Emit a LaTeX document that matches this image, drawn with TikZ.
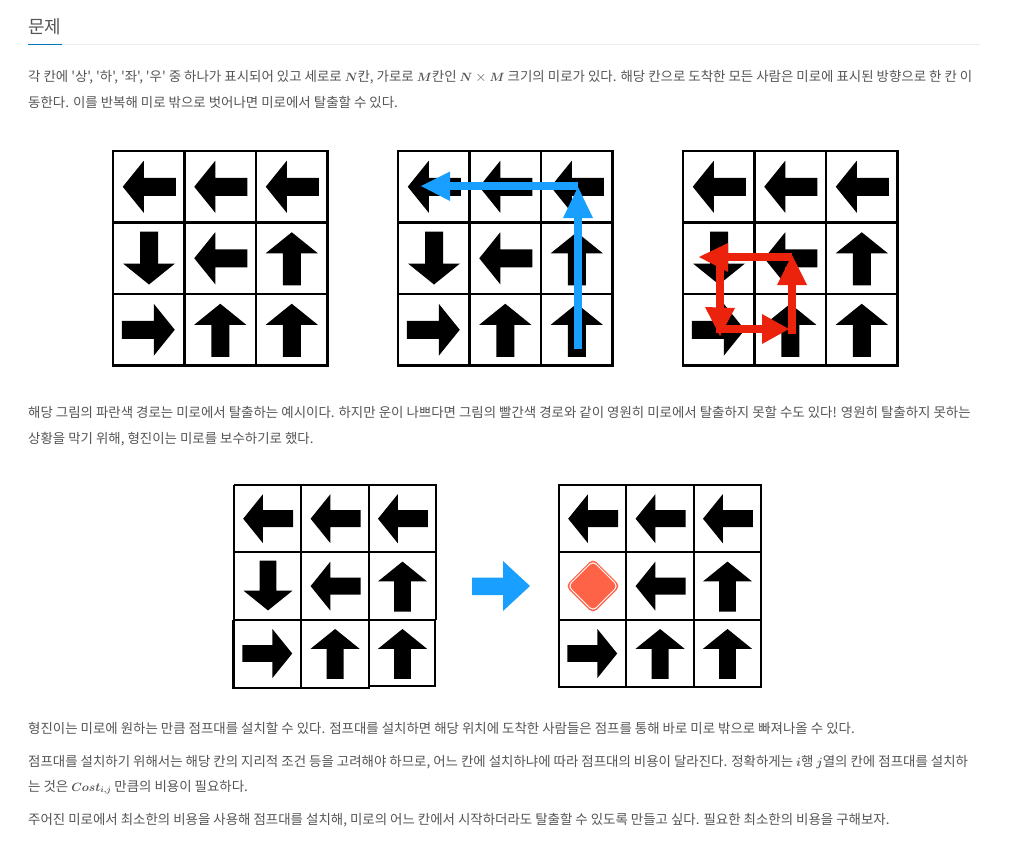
\documentclass[tikz,border=0pt]{standalone}
\usepackage{fontspec}
\newfontfamily\kr{Noto Sans CJK KR}
\definecolor{bodytext}{HTML}{555555}
\definecolor{pathblue}{HTML}{189FFF}
\definecolor{pathred}{HTML}{EC230C}
\definecolor{jumpred}{HTML}{FF6347}
\definecolor{ruleblue}{HTML}{0076C0}
\definecolor{rulegray}{HTML}{EEEEEE}
\newcommand{\mvar}[1]{{\fontsize{12}{14}\selectfont\boldmath$#1$}}
\newcommand{\arrowshape}[4]{% x y rotation scale
  \fill[black,shift={(#1,#2)},rotate=#3,scale=#4]
    (-26,0) -- (-5,-26) -- (-5,-9) -- (27,-9) -- (27,9) -- (-5,9) -- (-5,26) -- cycle;}
\newcommand{\gridthree}[3]{% x0 y0 cell : frame lines only
  \draw[gridline] (#1,#2) rectangle ++({3*#3},{3*#3});
  \draw[gridline] ({#1+#3},#2) -- ++(0,{3*#3});
  \draw[gridline] ({#1+2*#3},#2) -- ++(0,{3*#3});
  \draw[gridline] (#1,{#2+#3}) -- ++({3*#3},0);
  \draw[gridline] (#1,{#2+2*#3}) -- ++({3*#3},0);}
\newcommand{\mazeA}[3]{% x0 y0 cell; shared arrows
  \pgfmathsetmacro{\sc}{#3/71.5}
  \arrowshape{#1+.5*#3}{#2+.5*#3}{0}{\sc}
  \arrowshape{#1+1.5*#3}{#2+.5*#3}{0}{\sc}
  \arrowshape{#1+2.5*#3}{#2+.5*#3}{0}{\sc}
  \arrowshape{#1+1.5*#3}{#2+1.5*#3}{0}{\sc}
  \arrowshape{#1+2.5*#3}{#2+1.5*#3}{-90}{\sc}
  \arrowshape{#1+.5*#3}{#2+2.5*#3}{180}{\sc}
  \arrowshape{#1+1.5*#3}{#2+2.5*#3}{-90}{\sc}
  \arrowshape{#1+2.5*#3}{#2+2.5*#3}{-90}{\sc}}
\tikzset{
  gridline/.style={draw=black,line width=2.1pt},
  bodyline/.style={anchor=base west,inner sep=0pt,text=bodytext,font=\kr\fontsize{13.45}{15}\selectfont},
  routeblue/.style={draw=pathblue,line width=8pt},
  routered/.style={draw=pathred,line width=7.6pt},
  headblue/.style={fill=pathblue},
  headred/.style={fill=pathred}
}
\begin{document}
\begin{tikzpicture}[x=1pt,y=-1pt]
\useasboundingbox (0,0) rectangle (1023,847);
\fill[white] (0,0) rectangle (1023,847);
% heading
\node[anchor=base west,inner sep=0pt,text=bodytext,font=\kr\fontsize{18}{20}\selectfont] (title) at (28,33) {문제};
\draw[rulegray,line width=1pt] (28,44.5) -- (980,44.5);
\draw[ruleblue,line width=1.2pt] (28,44.5) -- (62,44.5);
% paragraph 1
\node[bodyline] (p1a) at (28,81.5) {각 칸에 '상', '하', '좌', '우' 중 하나가 표시되어 있고 세로로 \mvar{N}칸, 가로로 \mvar{M}칸인 \mvar{N} $\times$ \mvar{M} 크기의 미로가 있다. 해당 칸으로 도착한 모든 사람은 미로에 표시된 방향으로 한 칸 이};
\node[bodyline] (p1b) at (28,107) {동한다. 이를 반복해 미로 밖으로 벗어나면 미로에서 탈출할 수 있다.};
% top mazes
\gridthree{113}{151}{71.5}
\mazeA{113}{151}{71.5}
\arrowshape{149}{258.5}{90}{1}
\gridthree{398}{151}{71.5}
\mazeA{398}{151}{71.5}
\arrowshape{434}{258.5}{90}{1}
\gridthree{683}{151}{71.5}
\mazeA{683}{151}{71.5}
\arrowshape{719}{258.5}{90}{1}
% blue route
\coordinate (bs) at (578,349);
\coordinate (bc) at (578,186);
\coordinate (be) at (445,186);
\draw[routeblue] (bs) -- (578,215);
\draw[routeblue] (bc) -- (be);
\fill[headblue] (578,187) -- (593,218) -- (563,218) -- cycle;
\fill[headblue] (421,186) -- (450,171.5) -- (450,201) -- cycle;
% red route
\coordinate (ra) at (792,334);
\coordinate (rb) at (792,257);
\coordinate (rc) at (722,257);
\coordinate (rd) at (720,330);
\coordinate (re) at (768,329);
\draw[routered] (ra) -- (792,280);
\draw[routered] (rb) -- (rc);
\draw[routered] (720,257) -- (rd);
\draw[routered] (716,329) -- (re);
\fill[headred] (792,255) -- (807,285) -- (777,285) -- cycle;
\fill[headred] (699,257) -- (728,243) -- (728,272) -- cycle;
\fill[headred] (720,336) -- (705,307) -- (735,308) -- cycle;
\fill[headred] (789,329) -- (762,314) -- (762,344) -- cycle;
% paragraph 2
\node[bodyline] (p2a) at (28,417) {해당 그림의 파란색 경로는 미로에서 탈출하는 예시이다. 하지만 운이 나쁘다면 그림의 빨간색 경로와 같이 영원히 미로에서 탈출하지 못할 수도 있다! 영원히 탈출하지 못하는};
\node[bodyline] (p2b) at (28,443) {상황을 막기 위해, 형진이는 미로를 보수하기로 했다.};
% lower mazes
\draw[gridline] (234,485) -- (436.2,485) -- (436.2,620);
\draw[gridline] (234,485) -- (234,620);
\draw[gridline] (301.4,485) -- (301.4,620);
\draw[gridline] (368.8,485) -- (368.8,620);
\draw[gridline] (234,552.4) -- (436.2,552.4);
\draw[gridline] (233.5,620) -- (435.2,620) -- (435.2,686) -- (368.8,686);
\draw[gridline] (233.5,620) -- (233.5,687.6) -- (368.8,687.6) -- (368.8,620);
\draw[gridline] (301,620) -- (301,687.6);
\mazeA{234}{485}{67.4}
\arrowshape{268}{586}{90}{0.94}
\gridthree{559}{485}{67.4}
\mazeA{559}{485}{67.4}
% big arrow
\fill[pathblue] (530,586) -- (503,561) -- (503,577.5) -- (472,577.5) -- (472,595) -- (503,595) -- (503,611) -- cycle;
% jump pad
\fill[jumpred,rounded corners=5pt] (593,558.5) -- (620.5,586) -- (593,613.5) -- (565.5,586) -- cycle;
\draw[white,line width=1pt,rounded corners=4.5pt] (593,561) -- (618,586) -- (593,611) -- (568,586) -- cycle;
% paragraphs 3 to 5
\node[bodyline] (p3) at (28,733) {형진이는 미로에 원하는 만큼 점프대를 설치할 수 있다. 점프대를 설치하면 해당 위치에 도착한 사람들은 점프를 통해 바로 미로 밖으로 빠져나올 수 있다.};
\node[bodyline] (p4a) at (28,766) {점프대를 설치하기 위해서는 해당 칸의 지리적 조건 등을 고려해야 하므로, 어느 칸에 설치하냐에 따라 점프대의 비용이 달라진다. 정확하게는 \mvar{i}행 \mvar{j}열의 칸에 점프대를 설치하};
\node[bodyline] (p4b) at (28,791) {는 것은 \mvar{Cost_{i,j}} 만큼의 비용이 필요하다.};
\node[bodyline] (p5) at (28,824) {주어진 미로에서 최소한의 비용을 사용해 점프대를 설치해, 미로의 어느 칸에서 시작하더라도 탈출할 수 있도록 만들고 싶다. 필요한 최소한의 비용을 구해보자.};
\end{tikzpicture}
\end{document}
